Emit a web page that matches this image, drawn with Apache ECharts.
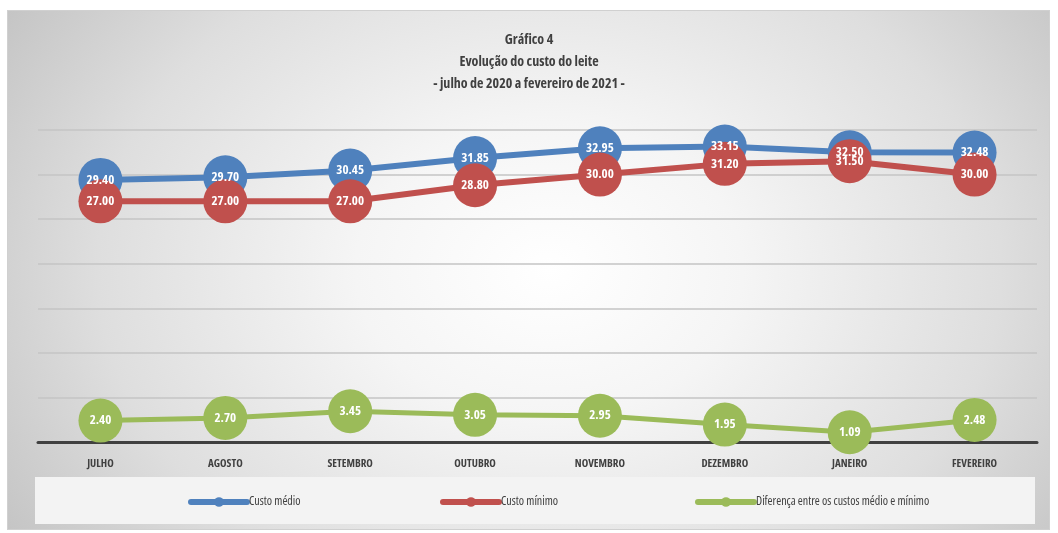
<!DOCTYPE html>
<html>
<head>
<meta charset="utf-8">
<script src="https://cdn.jsdelivr.net/npm/echarts@6/dist/echarts.min.js"></script>
<style>
html,body{margin:0;padding:0;background:#ffffff;}
#frame{position:absolute;left:7px;top:10px;width:1041px;height:518px;border:1px solid #d0d0d0;
background:radial-gradient(ellipse 62% 95% at 52% 50%, #ffffff 0%, #f5f5f5 30%, #dedede 70%, #c4c4c4 100%);}
#chart{position:absolute;left:0;top:0;width:1058px;height:533px;}
</style>
</head>
<body>
<div id="frame"></div>
<div id="chart"></div>
<script>
const categories = ['JULHO','AGOSTO','SETEMBRO','OUTUBRO','NOVEMBRO','DEZEMBRO','JANEIRO','FEVEREIRO'];
const custoMedio = [29.40, 29.70, 30.45, 31.85, 32.95, 33.15, 32.50, 32.48];
const custoMinimo = [27.00, 27.00, 27.00, 28.80, 30.00, 31.20, 31.50, 30.00];
const diferenca = [2.40, 2.70, 3.45, 3.05, 2.95, 1.95, 1.09, 2.48];
const seriesNames = ['Custo médio', 'Custo mínimo', 'Diferença entre os custos médio e mínimo'];
const titleLines = ['Gráfico 4', 'Evolução do custo do leite', '- julho de 2020 a fevereiro de 2021 -'];

const FONT = '"Open Sans", "Roboto", sans-serif';
const STRETCH = 'condensed';
const colors = ['#4F81BD', '#C0504D', '#9BBB59'];

const chart = echarts.init(document.getElementById('chart'), null, {renderer: 'canvas'});

function lineSeries(name, data, color, width) {
  return {
    name: name, type: 'line', data: data,
    symbol: 'circle', symbolSize: 44,
    itemStyle: {color: color},
    lineStyle: {color: color, width: width},
    label: {
      show: true, position: 'inside', color: '#ffffff',
      fontFamily: FONT, fontStyle: STRETCH, fontWeight: 'bold', fontSize: 13,
      formatter: p => p.value.toFixed(2)
    },
    emphasis: {disabled: true},
    animation: false, z: 3
  };
}

const legendCommon = {
  top: 491, itemWidth: 56, itemHeight: 12, itemGap: 2,
  lineStyle: {width: 6, cap: 'round'},
  itemStyle: {borderWidth: 0},
  textStyle: {fontFamily: FONT, fontStyle: STRETCH, fontSize: 12, color: '#404040', fontWeight: 'normal', padding: [0,0,0,-3]},
  selectedMode: false
};

chart.setOption({
  backgroundColor: 'transparent',
  title: {
    text: titleLines.join('\n'), left: 'center', top: 24,
    textStyle: {fontFamily: FONT, fontStyle: STRETCH, fontSize: 14, fontWeight: 'bold', color: '#404040', lineHeight: 22}
  },
  graphic: [{
    type: 'rect', left: 35, top: 477, shape: {width: 1000, height: 47},
    style: {fill: '#f3f3f3'}, z: -1, silent: true
  }],
  legend: [
    Object.assign({left: 183, data: [seriesNames[0]]}, legendCommon),
    Object.assign({left: 435, data: [seriesNames[1]]}, legendCommon),
    Object.assign({left: 690, data: [seriesNames[2]]}, legendCommon)
  ],
  grid: {left: 38, right: 21, top: 130, bottom: 91},
  xAxis: {
    type: 'category', data: categories, boundaryGap: true,
    axisLine: {lineStyle: {color: '#404040', width: 3}},
    axisTick: {show: false},
    axisLabel: {fontFamily: FONT, fontStyle: STRETCH, fontSize: 11, fontWeight: 'bold', color: '#404040', margin: 16}
  },
  yAxis: {
    type: 'value', min: 0, max: 35, interval: 5,
    axisLabel: {show: false}, axisLine: {show: false}, axisTick: {show: false},
    splitLine: {lineStyle: {color: '#c4c4c4', width: 1.5}}
  },
  series: [
    lineSeries(seriesNames[0], custoMedio, colors[0], 6),
    lineSeries(seriesNames[1], custoMinimo, colors[1], 6),
    lineSeries(seriesNames[2], diferenca, colors[2], 5)
  ]
});
</script>
</body>
</html>
